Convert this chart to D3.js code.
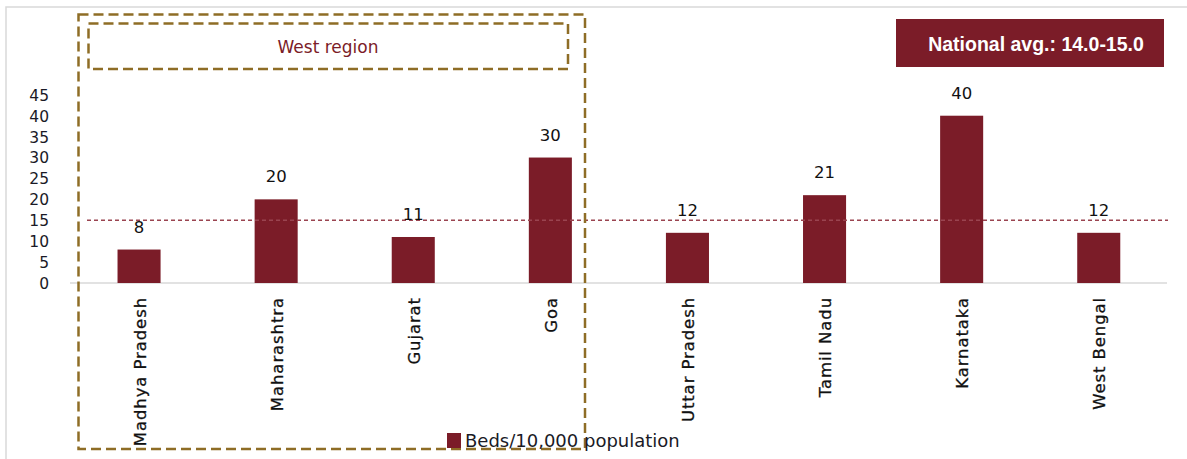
<!DOCTYPE html>
<html>
<head>
<meta charset="utf-8">
<script src="https://cdn.jsdelivr.net/npm/d3@7"></script>
<style>
  html, body { margin: 0; padding: 0; background: #fff; }
  svg { display: block; }
</style>
</head>
<body>
<svg id="chart" width="1187" height="459"></svg>
<script>
const categories = ["Madhya Pradesh", "Maharashtra", "Gujarat", "Goa", "Uttar Pradesh", "Tamil Nadu", "Karnataka", "West Bengal"];
const values = [8, 20, 11, 30, 12, 21, 40, 12];
const barLabels = ["8", "20", "11", "30", "12", "21", "40", "12"];
const yTicks = [0, 5, 10, 15, 20, 25, 30, 35, 40, 45];
const nationalAvg = 15;
const seriesName = "Beds/10,000 population";
const avgText = "National avg.: 14.0-15.0";
const regionText = "West region";

const svg = d3.select("#chart");
const maroon = "#7b1c28";
const gold = "#8e6d26";

// frame
svg.append("path").attr("d", "M6,459 L6,7 L1187,7").attr("fill", "none").attr("stroke", "#d9d9d9").attr("stroke-width", 1.5);

const x = d3.scaleBand().domain(categories).range([70.5, 1167.3]).paddingInner(0.686).paddingOuter(0.343);
const y = d3.scaleLinear().domain([0, 45]).range([283, 94.8]);

// y axis labels (no line)
const yAxis = d3.axisLeft(y).tickValues(yTicks).tickSize(0).tickPadding(0);
const yg = svg.append("g").attr("transform", "translate(49,0)").call(yAxis);
yg.select(".domain").remove();
yg.selectAll("text").attr("font-family", "DejaVu Sans").attr("font-size", 15.5).attr("fill", "#1a1a26").attr("dy", "0.35em");

// x axis line
const xAxis = d3.axisBottom(x).tickSize(0).tickFormat("");
const xg = svg.append("g").attr("transform", `translate(0,${y(0)})`).call(xAxis);
xg.select(".domain").attr("d", `M70,0H1167`).attr("stroke", "#d9d9d9").attr("stroke-width", 1.5);

// bars
svg.append("g").selectAll("rect").data(categories).join("rect")
  .attr("x", d => x(d))
  .attr("y", (d, i) => y(values[i]))
  .attr("width", x.bandwidth())
  .attr("height", (d, i) => y(0) - y(values[i]))
  .attr("fill", maroon);

// national avg dashed line
svg.append("line")
  .attr("x1", 87).attr("x2", 1168)
  .attr("y1", y(nationalAvg)).attr("y2", y(nationalAvg))
  .attr("stroke", "#9a4450").attr("stroke-width", 1.3).attr("stroke-dasharray", "4,3");

// value labels
svg.append("g").selectAll("text").data(categories).join("text")
  .attr("x", d => x(d) + x.bandwidth() / 2)
  .attr("y", (d, i) => y(values[i]) - 17)
  .attr("text-anchor", "middle")
  .attr("font-family", "DejaVu Sans").attr("font-size", 16.5).attr("fill", "#111")
  .text((d, i) => barLabels[i]);

// category labels rotated
svg.append("g").selectAll("text").data(categories).join("text")
  .attr("transform", d => `translate(${x(d) + x.bandwidth() / 2 + 1},297) rotate(-90)`)
  .attr("text-anchor", "end")
  .attr("dominant-baseline", "central")
  .attr("font-family", "DejaVu Sans").attr("font-size", 16.5).attr("letter-spacing", 0.9)
  .attr("fill", "#111")
  .attr("stroke", "#111").attr("stroke-width", 0.3)
  .text(d => d);

// West region boxes
svg.append("rect")
  .attr("x", 78.5).attr("y", 14.5).attr("width", 585 - 78.5).attr("height", 449 - 14.5)
  .attr("fill", "none").attr("stroke", gold).attr("stroke-width", 2.5).attr("stroke-dasharray", "10,5");
svg.append("rect")
  .attr("x", 88.5).attr("y", 23.5).attr("width", 568 - 88.5).attr("height", 69 - 23.5)
  .attr("fill", "none").attr("stroke", gold).attr("stroke-width", 2.5).attr("stroke-dasharray", "10,5");
svg.append("text")
  .attr("x", 328).attr("y", 53).attr("text-anchor", "middle")
  .attr("font-family", "DejaVu Sans").attr("font-size", 17).attr("fill", maroon)
  .text(regionText);

// National avg box
svg.append("rect").attr("x", 896).attr("y", 19).attr("width", 268).attr("height", 48).attr("fill", maroon);
svg.append("text")
  .attr("x", 1036).attr("y", 50.5).attr("text-anchor", "middle")
  .attr("font-family", "Liberation Sans").attr("font-weight", "bold").attr("font-size", 19.5).attr("fill", "#fff")
  .text(avgText);

// legend
svg.append("rect").attr("x", 447).attr("y", 433).attr("width", 14).attr("height", 15).attr("fill", maroon);
svg.append("text")
  .attr("x", 465).attr("y", 447)
  .attr("font-family", "DejaVu Sans").attr("font-size", 18).attr("fill", "#1a1a26")
  .text(seriesName);
</script>
</body>
</html>
